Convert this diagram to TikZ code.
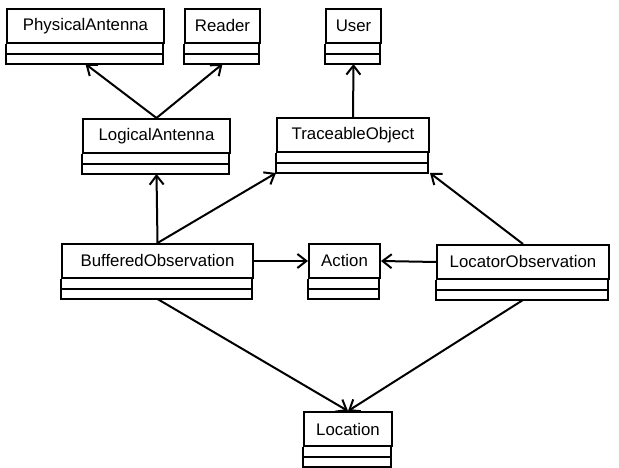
\documentclass[tikz,border=0pt]{standalone}
\usepackage{fontspec}
\setmainfont{Liberation Sans}
\usetikzlibrary{arrows.meta}

\tikzset{
  boxline/.style={line width=2pt},
  classhead/.style={draw, boxline, minimum height=34pt, inner sep=0pt,
    font=\fontsize{16.8}{20}\selectfont},
  assoc/.style={boxline, -{Straight Barb[length=9pt,width=14pt]}}
}

% class box: name, x, y, width, label
\newcommand{\umlclass}[5]{
  \node[classhead, minimum width=#4pt] (#1) at (#2,#3) {#5};
  \draw[boxline] (#1.south west) -- ++(0,-20) -- ++(#4,0) -- ++(0,20);
  \draw[boxline] (#1.south west) ++(0,-10) -- ++(#4,0);
  \path (#1.south) ++(0,-20) coordinate (#1-s);
  \path (#1.south west) ++(0,-20) coordinate (#1-sw);
  \path (#1.south east) ++(0,-20) coordinate (#1-se);
}

\begin{document}
\begin{tikzpicture}[x=1pt,y=1pt]
\useasboundingbox (0,0) rectangle (619,468);

\umlclass{PA}{85.5}{442}{157}{PhysicalAntenna}
\umlclass{RD}{222.5}{442}{75}{Reader}
\umlclass{US}{353.5}{442}{55}{User}
\umlclass{LA}{156.5}{332}{147}{LogicalAntenna}
\umlclass{TO}{353}{333}{152}{TraceableObject}
\umlclass{BO}{157.5}{207}{191}{BufferedObservation}
\umlclass{AC}{344.5}{207}{71}{Action}
\umlclass{LO}{523}{206}{172}{LocatorObservation}
\umlclass{LC}{348}{39}{88}{Location}

\draw[assoc] (LA.north) -- (PA-s);
\draw[assoc] (LA.north) -- (RD-s);
\draw[assoc] (TO.north) -- (US-s);
\draw[assoc] (BO.north) -- (LA-s);
\draw[assoc] (BO.north) -- (TO-sw);
\draw[assoc] (LO.north) -- (TO-se);
\draw[assoc] (BO.east) -- (AC.west);
\draw[assoc] (LO.west) -- (AC.east);
\draw[assoc] (BO-s) -- (LC.north);
\draw[assoc] (LO-s) -- (LC.north);
\end{tikzpicture}
\end{document}
